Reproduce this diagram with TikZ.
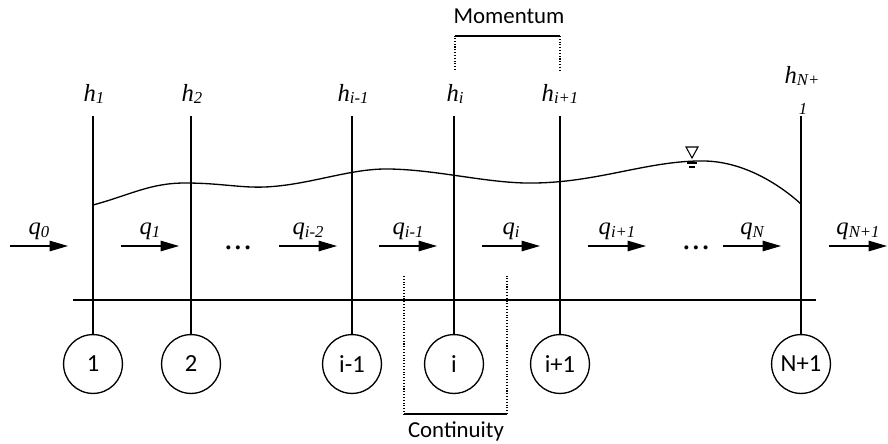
\documentclass[tikz,border=0pt]{standalone}
\usepackage{fontspec}
\setmainfont{Liberation Serif}
\newfontfamily\calib{Carlito}
\usetikzlibrary{arrows.meta}
\newcommand{\vlab}[2]{{\fontsize{14}{16}\selectfont\itshape #1\raisebox{-1.5pt}{\fontsize{9.5}{11}\selectfont #2}}}
\tikzset{
  cell/.style={draw, circle, minimum size=33.5pt, inner sep=0pt, font=\calib\fontsize{14}{16}\selectfont},
  flow/.style={line width=0.6pt, -{Triangle[length=10.5pt,width=6pt]}},
  eqn/.style={densely dotted, line width=0.6pt},
  tag/.style={font=\calib\fontsize{13}{15}\selectfont}
}
\begin{document}
\begin{tikzpicture}[x=0.02cm, y=-0.02cm, line width=0.75pt]
  \useasboundingbox (0,0) rectangle (888,443);
  \clip (0,0) rectangle (888,443);
  \coordinate (bl) at (73,300);
  \coordinate (br) at (816,300);
  \draw (bl) -- (br);
  \foreach \x/\n/\lab in {93/1/1, 191/2/2, 352/im/i-1, 454/i/i, 560/ip/i+1, 801/N/N+1}
  {
    \node[cell] (c\n) at (\x,364) {\lab};
    \coordinate (t\n) at (\x,116);
    \draw (t\n) -- (c\n);
  }
  \foreach \x/\n/\hl in {93/1/\vlab{h}{1}, 191/2/\vlab{h}{2}, 352/im/\vlab{h}{i-1}, 454/i/\vlab{h}{i}, 559/ip/\vlab{h}{i+1}}
    \node[anchor=base] (h\n) at (\x+1,101) {\hl};
  \node[anchor=base] (hN) at (802,83) {\vlab{h}{N+}};
  \node[anchor=base] (hNb) at (803,114) {\fontsize{9.5}{11}\selectfont\itshape 1};
  % water surface
  \draw (93,205) .. controls (130,195) and (150,183) .. (185,183)
    .. controls (220,183) and (240,188) .. (265,187)
    .. controls (310,185) and (350,168) .. (390,169)
    .. controls (440,170) and (490,184) .. (535,183)
    .. controls (600,182) and (650,160) .. (705,161)
    .. controls (745,162) and (780,185) .. (801,204);
  \draw[line width=0.6pt] (686,147) -- (698,147) -- (692,158) -- cycle;
  \draw[line width=0.6pt] (687,163) -- (697,163);
  \draw[line width=0.6pt] (689,167) -- (695,167);
  \foreach \x/\n/\lab in {10/0/0, 121/1/1, 279/2/i-2, 379/3/i-1, 482/4/i, 588/5/i+1, 723/6/N, 829/7/N+1}
  {
    \coordinate (f\n) at (\x,246);
    \coordinate (g\n) at (\x+58,246);
    \draw[flow] (f\n) -- node[above] (q\n) {\vlab{q}{\lab}} (g\n);
  }
  \node[anchor=base] (d1) at (238,249) {\fontsize{14}{16}\selectfont\bfseries .\hspace{2pt}.\hspace{2pt}.};
  \node[anchor=base] (d2) at (696,249) {\fontsize{14}{16}\selectfont\bfseries .\hspace{2pt}.\hspace{2pt}.};
  \node[tag] (mom) at (509,16) {Momentum};
  \coordinate (m1) at (455,70);
  \coordinate (m2) at (560,70);
  \draw[eqn] (m1) -- (455,36);
  \draw[line width=0.6pt] (455,36) -- (560,36);
  \draw[eqn] (560,36) -- (m2);
  \node[tag] (con) at (456,431) {Continuity};
  \coordinate (k1) at (404,276);
  \coordinate (k2) at (507,276);
  \draw[eqn] (k1) -- (404,414);
  \draw[line width=0.6pt] (404,414) -- (507,414);
  \draw[eqn] (507,414) -- (k2);
\end{tikzpicture}
\end{document}
